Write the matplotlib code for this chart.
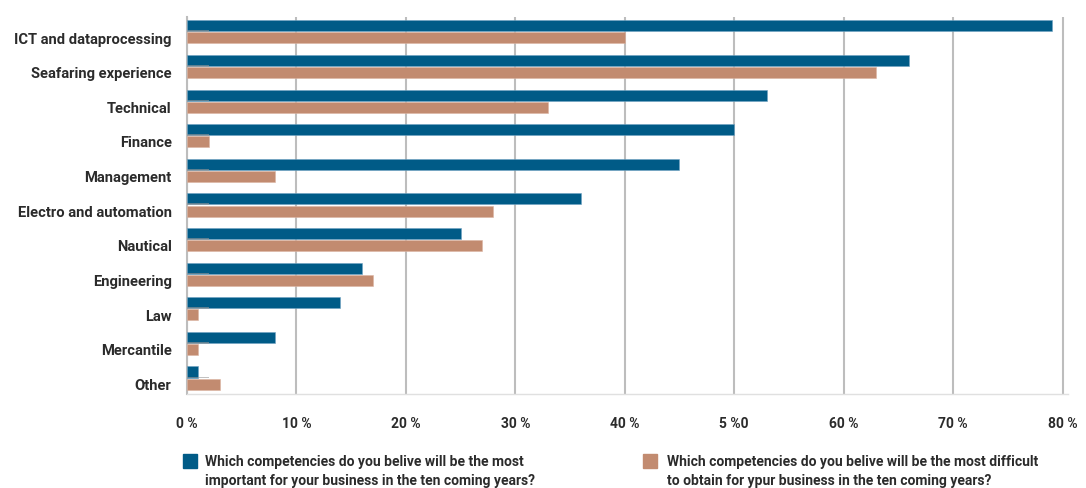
import matplotlib

matplotlib.use("Agg")
import matplotlib.pyplot as plt
import numpy as np

plt.rcParams["font.family"] = ["Roboto", "DejaVu Sans"]

categories = ["ICT and dataprocessing", "Seafaring experience", "Technical", "Finance",
              "Management", "Electro and automation", "Nautical", "Engineering", "Law",
              "Mercantile", "Other"]
important = [79, 66, 53, 50, 45, 36, 25, 16, 14, 8, 1]
difficult = [40, 63, 33, 2, 8, 28, 27, 17, 1, 1, 3]
stub = [2] * len(categories)  # faint grey stub visible between each bar pair
xticks = [0, 10, 20, 30, 40, 50, 60, 70, 80]
xticklabels = ["0 %", "10 %", "20 %", "30 %", "40 %", "5 %0", "60 %", "70 %", "80 %"]
leg_important = "Which competencies do you belive will be the most\nimportant for your business in the ten coming years?"
leg_difficult = "Which competencies do you belive will be the most difficult\nto obtain for ypur business in the ten coming years?"

BLUE = "#005b87"
TAN = "#c28b70"
TXT = "#2b2b2b"

fig = plt.figure(figsize=(10.86, 4.89), dpi=100)
ax = fig.add_axes([0.1722, 0.1922, 0.8112, 0.771])
y = np.arange(len(categories))
h = 0.32
ax.barh(y - 0.175, important, height=h, color=BLUE, edgecolor="#6fa3c2", lw=0.4, zorder=3)
ax.barh(y + 0.175, difficult, height=h, color=TAN, edgecolor="#dcb4a2", lw=0.4, zorder=3)
ax.barh(y - 0.02, stub, height=0.05, color="#9a9a9a", alpha=0.6, zorder=4)

ax.set_xlim(0, 80.5)
ax.set_ylim(10.46, -0.43)
ax.set_xticks(xticks)
ax.set_xticklabels(xticklabels, fontsize=10, fontweight="bold", color=TXT)
# category labels sit slightly below the centre of each bar pair
ax.set_yticks(y + 0.15)
ax.set_yticklabels(categories, fontsize=10.6, fontweight="bold", color=TXT)
ax.tick_params(length=0)
ax.tick_params(axis="x", pad=16)
ax.tick_params(axis="y", pad=11)
ax.grid(axis="x", color="#bdbdbd", lw=1.5, zorder=0)
for s in ("top", "right"):
    ax.spines[s].set_visible(False)
ax.spines["left"].set_color("#bdbdbd")
ax.spines["left"].set_linewidth(1.5)
ax.spines["bottom"].set_color("#e0e0e0")
ax.spines["bottom"].set_linewidth(1.0)

# legend entries laid out as in the reference
fig.patches.append(plt.Rectangle((183 / 1086, 1 - 469 / 489), 14 / 1086, 14 / 489,
                                 transform=fig.transFigure, color=BLUE))
fig.text(205 / 1086, 1 - 455 / 489, leg_important, fontsize=10, fontweight="bold",
         color=TXT, va="top", linespacing=1.45)
fig.patches.append(plt.Rectangle((643 / 1086, 1 - 469 / 489), 14 / 1086, 14 / 489,
                                 transform=fig.transFigure, color=TAN))
fig.text(667 / 1086, 1 - 455 / 489, leg_difficult, fontsize=10, fontweight="bold",
         color=TXT, va="top", linespacing=1.45)

fig.savefig("out.png", dpi=100)
